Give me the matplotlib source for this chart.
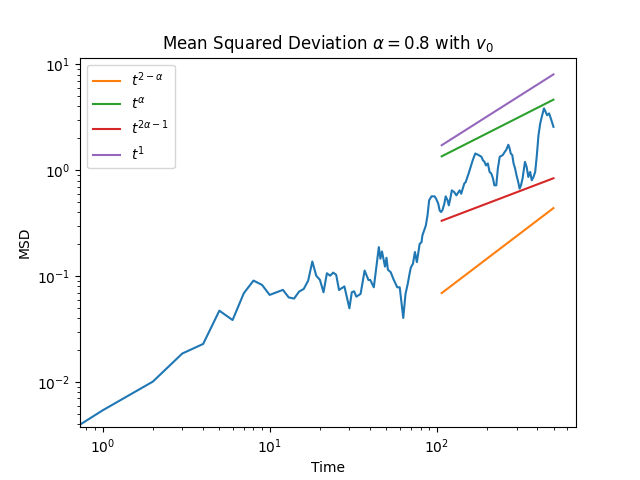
import numpy as np
import matplotlib
matplotlib.use("Agg")
import matplotlib.pyplot as plt

alpha = 0.8

time = [0, 1, 2, 3, 4, 5, 6, 7, 8, 9, 10, 11, 12, 13, 14, 15, 16, 17, 18, 19, 20,
        21, 22, 23, 24, 25, 26, 28, 30, 31, 32, 33, 35, 37, 39, 40, 42, 45, 46, 47,
        49, 50, 51, 53, 55, 58, 60, 63, 65, 67, 69, 70, 72, 74, 76, 79, 81, 82, 84,
        86, 88, 90, 93, 97, 99, 102, 104, 106, 108, 111, 113, 116, 118, 121, 123,
        127, 131, 137, 140, 146, 149, 155, 164, 170, 178, 185, 189, 193, 197, 202,
        207, 212, 217, 221, 227, 232, 238, 248, 255, 260, 268, 273, 277, 283,
        288, 294, 300, 307, 313, 319, 326, 337, 345, 353, 362, 370, 379, 388, 397,
        406, 416, 425, 438, 448, 457, 470, 485, 499]
msd = [0, 0.0054, 0.0101, 0.0186, 0.0229, 0.0472, 0.0385, 0.0689, 0.0908, 0.0827,
       0.0665, 0.0705, 0.0742, 0.063, 0.0614, 0.0715, 0.0758, 0.0908, 0.1375, 0.101,
       0.092, 0.0704, 0.1065, 0.101, 0.108, 0.103, 0.074, 0.080, 0.0497, 0.0704,
       0.072, 0.064, 0.068, 0.113, 0.092, 0.092, 0.0785, 0.188, 0.146, 0.171,
       0.123, 0.149, 0.115, 0.109, 0.094, 0.0785, 0.0785, 0.0403, 0.068, 0.0845,
       0.109, 0.121, 0.131, 0.169, 0.1355, 0.202, 0.209, 0.242, 0.27, 0.301, 0.375,
       0.52, 0.567, 0.567, 0.54, 0.484, 0.418, 0.403, 0.418, 0.484, 0.567, 0.52,
       0.466, 0.559, 0.646, 0.623, 0.58, 0.646, 0.60, 0.748, 0.775, 0.93, 1.24,
       1.44, 1.39, 1.34, 1.24, 1.20, 1.11, 1.16, 0.964, 0.93, 0.835, 0.72, 0.72,
       1.04, 1.34, 1.39, 1.49, 1.55, 1.74, 1.6, 1.44, 1.39,
       1.16, 1.04, 0.897, 0.775, 0.67, 0.72, 0.835, 1.2, 1.07, 0.864, 0.964, 0.804,
       0.864, 0.964, 1.39, 2.14, 2.77, 3.2, 3.84, 3.56, 3.31, 3.44, 2.97, 2.57]

ref_start, ref_end = 107, 500
ref_labels = [r'$t^{2-\alpha}$', r'$t^{\alpha}$', r'$t^{2\alpha-1}$', r'$t^1$']
ref_powers = [2 - alpha, alpha, 2 * alpha - 1, 1.0]
ref_coeffs = [2.54e-4, 0.0322, 0.0202, 0.0161]

fig, ax = plt.subplots(figsize=(6.4, 4.8), dpi=100)
ax.plot(time, msd, color='C0')
tr = np.arange(ref_start, ref_end)
for i, (lab, p, c) in enumerate(zip(ref_labels, ref_powers, ref_coeffs)):
    ax.plot(tr, c * tr ** p, color=f'C{i+1}', label=lab)
ax.set_xscale('log')
ax.set_yscale('log')
ax.set_xlabel('Time')
ax.set_ylabel('MSD')
ax.set_title(r'Mean Squared Deviation $\alpha = 0.8$ with $v_0$')
ax.legend(loc='upper left')
fig.savefig('out.png')
